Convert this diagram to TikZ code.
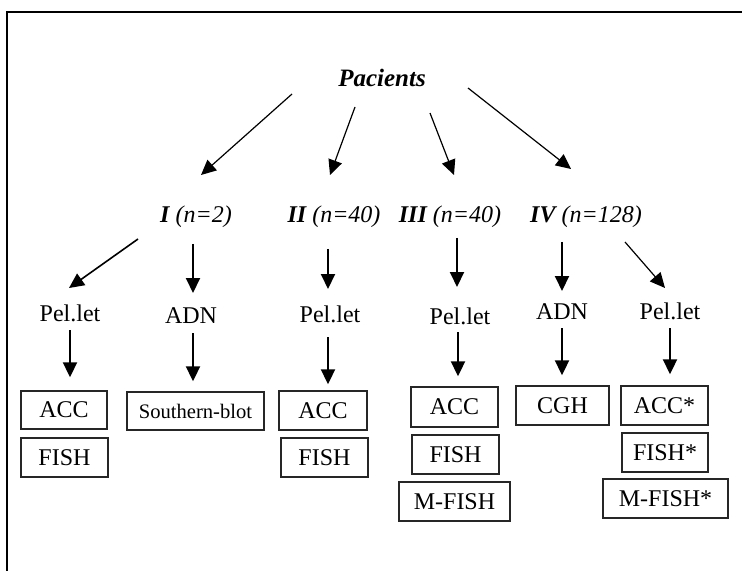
\documentclass[tikz,border=0pt]{standalone}
\usepackage{fontspec}
\setmainfont{Liberation Serif}
\usetikzlibrary{arrows.meta}
\begin{document}
\begin{tikzpicture}[x=0.5pt,y=-0.5pt,
  txt/.style={inner sep=0pt, anchor=base, font=\fontsize{12}{14}\selectfont},
  lbl/.style={inner sep=0pt, anchor=base, font=\fontsize{12}{14}\selectfont\itshape},
  box/.style={draw=black!85, line width=0.7pt, inner sep=0pt, font=\fontsize{12}{14}\selectfont},
  arr/.style={-{Triangle[length=7.5pt,width=7pt]}, line width=1pt},
  thinarr/.style={arr, line width=0.6pt},
  frame/.style={line width=1pt}]
\useasboundingbox (0,0) rectangle (742,571);
\draw[frame] (7,575) -- (7,12) -- (746,12);

% top
\node[inner sep=0pt, anchor=base, font=\fontsize{12.5}{14}\selectfont\bfseries\itshape] (P) at (382,87) {Pacients};

% row 2
\node[lbl] (G1) at (196,223) {\textbf{I} (n=2)};
\node[lbl] (G2) at (334,223) {\textbf{II} (n=40)};
\node[lbl] (G3) at (450,223) {\textbf{III} (n=40)};
\node[lbl] (G4) at (586,223) {\textbf{IV} (n=128)};

% row 3
\node[txt] (PL1) at (70,321) {Pel.let};
\node[txt] (ADN1) at (191,323) {ADN};
\node[txt] (PL2) at (330,322) {Pel.let};
\node[txt] (PL3) at (460,324) {Pel.let};
\node[txt] (ADN2) at (562,319) {ADN};
\node[txt] (PL4) at (670,319) {Pel.let};

% boxes
\node[box, minimum width=43pt, minimum height=19pt] (ACC1) at (64,410) {ACC};
\node[box, minimum width=43.5pt, minimum height=19.5pt] (FISH1) at (64.5,457.5) {FISH};
\node[box, minimum width=68.5pt, minimum height=19pt, font=\fontsize{10.3}{12}\selectfont] (SB) at (195.5,411) {Southern-blot};
\node[box, minimum width=44pt, minimum height=19.5pt] (ACC2) at (323,410.5) {ACC};
\node[box, minimum width=43.5pt, minimum height=19.5pt] (FISH2) at (324.5,457.5) {FISH};
\node[box, minimum width=43.5pt, minimum height=20pt] (ACC3) at (454.5,407) {ACC};
\node[box, minimum width=43.5pt, minimum height=19.5pt] (FISH3) at (455.5,454.5) {FISH};
\node[box, minimum width=55.5pt, minimum height=19.5pt] (MF3) at (454.5,501.5) {M-FISH};
\node[box, minimum width=46.5pt, minimum height=19.5pt] (CGH) at (562.5,405.5) {CGH};
\node[box, minimum width=43.5pt, minimum height=19.5pt] (ACC4) at (664.5,405.5) {ACC*};
\node[box, minimum width=43pt, minimum height=19.5pt] (FISH4) at (665,452.5) {FISH*};
\node[box, minimum width=62.5pt, minimum height=19.5pt] (MF4) at (665.5,498.5) {M-FISH*};

% arrows from Pacients
\draw[thinarr] ([shift={(-90,7)}]P.base) -- ([shift={(5,-48)}]G1.base);
\draw[thinarr] ([shift={(-27,20)}]P.base) -- ([shift={(-4,-48)}]G2.base);
\draw[thinarr] ([shift={(48,26)}]P.base) -- ([shift={(4,-48)}]G3.base);
\draw[thinarr] ([shift={(86,1)}]P.base) -- ([shift={(-15,-54)}]G4.base);

% arrows row 2 -> row 3
\draw[arr, line width=0.8pt] ([shift={(-58,16)}]G1.base) -- ([shift={(-1,-33)}]PL1.base);
\draw[arr] ([shift={(-3,21)}]G1.base) -- ([shift={(2,-30)}]ADN1.base);
\draw[arr] ([shift={(-6,26)}]G2.base) -- ([shift={(-2,-33)}]PL2.base);
\draw[arr] ([shift={(7,15)}]G3.base) -- ([shift={(-3,-37)}]PL3.base);
\draw[arr] ([shift={(-24,19)}]G4.base) -- ([shift={(0,-28)}]ADN2.base);
\draw[thinarr] ([shift={(39,19)}]G4.base) -- ([shift={(-5,-31)}]PL4.base);

% arrows row 3 -> boxes
\draw[arr] ([shift={(0,9)}]PL1.base) -- ([shift={(6,-13)}]ACC1.north);
\draw[arr] ([shift={(2,10)}]ADN1.base) -- ([shift={(-2.5,-10)}]SB.north);
\draw[arr] ([shift={(-2,15)}]PL2.base) -- ([shift={(5,-6)}]ACC2.north);
\draw[arr] ([shift={(-2,8)}]PL3.base) -- ([shift={(3.5,-10)}]ACC3.north);
\draw[arr] ([shift={(0,9)}]ADN2.base) -- ([shift={(-0.5,-10)}]CGH.north);
\draw[arr] ([shift={(0,9)}]PL4.base) -- ([shift={(5.5,-11)}]ACC4.north);
\end{tikzpicture}
\end{document}
